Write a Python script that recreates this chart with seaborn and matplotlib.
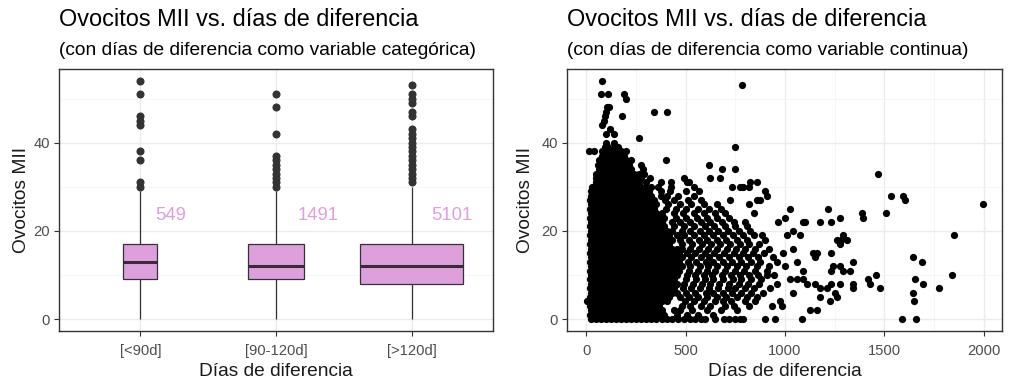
import numpy as np
import pandas as pd
import matplotlib
matplotlib.use("Agg")
import matplotlib.pyplot as plt
import seaborn as sns
from matplotlib.ticker import FixedLocator

# ---------------- data ----------------
categorias = ["[<90d]", "[90-120d]", "[>120d]"]
n_obs = [549, 1491, 5101]

# Ovocitos MII per category (values read to reproduce box, whiskers and outliers)
mii_lt90 = [0, 2, 4, 5, 6, 7, 7, 8, 8, 9, 9,
            10, 10, 11, 11, 12, 12, 12, 13, 13, 13,
            14, 14, 14, 15, 15, 16, 16, 16, 17, 17,
            29, 30, 31, 36, 38, 44, 45, 46, 51, 54]
mii_90_120 = [0, 1, 3, 4, 5, 6, 6, 7, 7, 8, 8, 8, 9, 9,
              9, 10, 10, 10, 11, 11, 11, 11, 12, 12, 12, 12, 12,
              13, 13, 13, 14, 14, 14, 15, 15, 16, 16, 16, 17, 17,
              23, 29, 30, 31, 32, 33, 34, 35, 36, 37, 42, 48, 51]
mii_gt120 = [0, 0, 1, 2, 2, 3, 3, 4, 4, 5, 5, 5, 6, 6, 6, 7, 7, 7, 7, 8, 8, 8, 8,
             8, 9, 9, 9, 9, 10, 10, 10, 10, 10, 11, 11, 11, 11, 11, 11, 12, 12, 12, 12, 12, 12,
             12, 13, 13, 13, 13, 14, 14, 14, 14, 15, 15, 15, 15, 16, 16, 16, 16, 16, 17, 17, 17, 17,
             20, 24, 30, 31, 32, 33, 34, 35, 36, 37, 38, 39, 40, 41, 42, 43, 46, 47, 49, 50, 51, 53]

# Scatter: (ovocitos MII, [días de diferencia ...])
filas_dispersion = [
    (0, [22, 47, 73, 98, 124, 149, 175, 200, 226, 251, 277, 302, 328, 353, 379, 404, 430,
         462, 490, 520, 549, 575, 599, 650, 692, 716, 750, 775, 791, 900, 950, 1084, 1591, 1661]),
    (1, [21, 35, 60, 86, 111, 137, 162, 188, 213, 239, 264, 290, 315, 341, 366, 392,
         455, 505, 560, 640]),
    (2, [22, 47, 73, 98, 124, 149, 175, 200, 226, 251, 277, 302, 328, 353, 379,
         440, 470, 530, 610, 680, 760, 1126, 1159]),
    (3, [21, 35, 60, 86, 111, 137, 162, 188, 213, 239, 264, 290, 315, 341, 366,
         480, 520, 575, 625, 700, 745, 820, 934, 984]),
    (4, [3, 22, 47, 73, 98, 124, 149, 175, 200, 226, 251, 277, 302, 328, 353, 379, 404,
         495, 540, 590, 650, 690, 730, 800, 850, 975, 1226, 1647]),
    (5, [21, 35, 60, 86, 111, 137, 162, 188, 213, 239, 264, 290, 315, 341, 366, 392, 417,
         470, 515, 560, 610, 660, 705, 760, 810, 860, 1176, 1260]),
    (6, [22, 47, 73, 98, 124, 149, 175, 200, 226, 251, 277, 302, 328, 353, 379, 404, 430, 455,
         500, 545, 600, 640, 690, 735, 780, 830, 890, 1042, 1251, 1644]),
    (7, [21, 35, 60, 86, 111, 137, 162, 188, 213, 239, 264, 290, 315, 341, 366, 392, 417, 443,
         485, 525, 570, 620, 665, 715, 750, 800, 845, 925, 1176, 1209, 1343, 1477, 1775]),
    (8, [22, 47, 73, 98, 124, 149, 175, 200, 226, 251, 277, 302, 328, 353, 379, 404, 430, 455,
         490, 535, 580, 625, 670, 720, 770, 815, 870, 960, 1109, 1150, 1234, 1276, 1343, 1427, 1694]),
    (9, [21, 35, 60, 86, 111, 137, 162, 188, 213, 239, 264, 290, 315, 341, 366, 392, 417, 443,
         500, 550, 595, 640, 690, 740, 780, 830, 880, 1026, 1060, 1092, 1418, 1652]),
    (10, [22, 47, 73, 98, 124, 149, 175, 200, 226, 251, 277, 302, 328, 353, 379, 404, 430, 455,
          505, 545, 590, 635, 685, 730, 775, 820, 865, 910, 945, 1457, 1841]),
    (11, [21, 35, 60, 86, 111, 137, 162, 188, 213, 239, 264, 290, 315, 341, 366, 392, 417, 443, 468,
          515, 560, 610, 650, 700, 750, 795, 850, 910, 1092, 1234, 1293, 1326]),
    (12, [22, 47, 73, 98, 124, 149, 175, 200, 226, 251, 277, 302, 328, 353, 379, 404, 430, 455, 481,
          520, 570, 615, 660, 710, 760, 805, 860, 920, 1000, 1243, 1276]),
    (13, [21, 35, 60, 86, 111, 137, 162, 188, 213, 239, 264, 290, 315, 341, 366, 392, 417, 443, 468,
          510, 550, 600, 640, 690, 735, 780, 830, 875, 960, 1060, 1343, 1691]),
    (14, [22, 47, 73, 98, 124, 149, 175, 200, 226, 251, 277, 302, 328, 353, 379, 404, 430, 455, 481,
          525, 575, 620, 670, 720, 770, 815, 865, 940, 1151, 1644]),
    (15, [21, 35, 60, 86, 111, 137, 162, 188, 213, 239, 264, 290, 315, 341, 366, 392, 417, 443, 468,
          505, 545, 595, 645, 695, 745, 790, 840, 895, 990, 1143, 1159, 1234]),
    (16, [22, 47, 73, 98, 124, 149, 175, 200, 226, 251, 277, 302, 328, 353, 379, 404, 430, 455, 481,
          520, 565, 615, 660, 710, 755, 800, 850, 920, 1040]),
    (17, [21, 35, 60, 86, 111, 137, 162, 188, 213, 239, 264, 290, 315, 341, 366, 392, 417,
          480, 530, 580, 630, 675, 725, 775, 820, 870, 1276]),
    (18, [22, 47, 73, 98, 124, 149, 175, 200, 226, 251, 277, 302, 328, 353, 379, 404, 430,
          470, 515, 565, 610, 660, 705, 760, 810, 900, 1260, 1284, 1310]),
    (19, [21, 35, 60, 86, 111, 137, 162, 188, 213, 239, 264, 290, 315, 341, 366, 392, 417,
          455, 490, 540, 590, 640, 690, 740, 790, 845, 883, 1009, 1076, 1293, 1850]),
    (20, [22, 47, 73, 98, 124, 149, 175, 200, 226, 251, 277, 302, 328, 353, 379, 404, 430,
          480, 520, 570, 620, 665, 715, 770, 825, 1042]),
    (21, [21, 35, 60, 86, 111, 137, 162, 188, 213, 239, 264, 290, 315, 341, 366, 392,
          440, 490, 540, 595, 645, 700, 750, 810]),
    (22, [22, 47, 73, 98, 124, 149, 175, 200, 226, 251, 277, 302, 328, 353, 379,
          430, 470, 520, 575, 625, 683, 741, 800, 967, 1092, 1101, 1176, 1234]),
    (23, [21, 35, 60, 86, 111, 137, 162, 188, 213, 239, 264, 290, 315, 341, 366, 392,
          450, 500, 555, 610, 660, 720, 1000, 1276, 1393]),
    (24, [22, 47, 73, 98, 124, 149, 175, 200, 226, 251, 277, 302, 328, 353, 379,
          440, 485, 540, 590, 650, 700, 842, 1385, 1510]),
    (25, [21, 35, 60, 86, 111, 137, 162, 188, 213, 239, 264, 290, 315, 341,
          400, 450, 500, 560, 620, 680, 1026, 1218]),
    (26, [22, 47, 73, 98, 124, 149, 175, 200, 226, 251, 277, 302, 328, 353,
          410, 470, 525, 590, 660, 817, 1995]),
    (27, [21, 35, 60, 86, 111, 137, 162, 188, 213, 239, 264, 290, 315, 341,
          395, 440, 510, 575, 725, 858, 875, 1602]),
    (28, [25, 47, 73, 98, 124, 149, 175, 200, 226, 251, 277, 302, 328,
          374, 407, 460, 540, 909, 1535, 1594]),
    (29, [25, 35, 60, 86, 111, 137, 162, 188, 213, 239, 264, 290, 315,
          374, 420, 500, 566, 900]),
    (30, [28, 47, 73, 98, 124, 149, 175, 200, 226, 251, 277, 302, 328,
          360, 424, 541, 733, 775, 791, 817]),
    (31, [48, 60, 86, 111, 137, 162, 188, 213, 239, 264,
          300, 374, 424, 507, 516, 825, 858]),
    (32, [47, 73, 98, 124, 149, 175, 200, 226, 251, 277,
          323, 490, 624, 675]),
    (33, [48, 60, 86, 111, 137, 162, 188, 213, 239, 264, 290, 1469]),
    (34, [62, 73, 98, 124, 149, 175, 200, 226, 285, 683, 750]),
    (35, [60, 86, 111, 137, 162, 188, 213, 273, 616]),
    (36, [62, 73, 98, 124, 149, 175, 200, 226, 399]),
    (37, [78, 86, 111, 137, 162, 188]),
    (38, [14, 40, 78, 98, 124, 149, 175, 200]),
    (39, [92, 111, 137, 162, 750]),
    (40, [100, 140]),
    (41, [265]),
    (42, [98, 140]),
    (43, [120]),
    (44, [81]),
    (45, [89]),
    (46, [95, 181]),
    (47, [98, 340, 407]),
    (48, [105, 115]),
    (50, [198]),
    (51, [73, 110, 190]),
    (53, [783]),
    (54, [81]),
]

# ---------------- style ----------------
sns.set_theme(style="white")
plt.rcParams["font.family"] = ["Liberation Sans", "DejaVu Sans"]

GRID_MAJ = "#EBEBEB"
GRID_MIN = "#F5F5F5"
BORDER = "#333333"
TICKTXT = "#4D4D4D"
PLUM = "#DDA0DD"

fig = plt.figure(figsize=(10.11, 3.88), dpi=100)
fig.patch.set_facecolor("white")
W, H = 1011, 388
ax1 = fig.add_axes([59 / W, 1 - 331 / H, (493 - 59) / W, (331 - 69) / H])
ax2 = fig.add_axes([567 / W, 1 - 331 / H, (1002 - 567) / W, (331 - 69) / H])

# ---------------- left: boxplots ----------------
grupos = [mii_lt90, mii_90_120, mii_gt120]
max_n = max(n_obs)
for cat, vals, n in zip(categorias, grupos, n_obs):
    df_i = pd.DataFrame({"dias_cat": [cat] * len(vals), "mii": vals})
    sns.boxplot(
        data=df_i, x="dias_cat", y="mii", order=categorias,
        width=0.76 * np.sqrt(n / max_n),
        color=PLUM, saturation=1, linecolor=BORDER, linewidth=0.9,
        showcaps=False, fliersize=4.8,
        flierprops=dict(marker="o", markerfacecolor=BORDER, markeredgecolor=BORDER),
        medianprops=dict(color="#3a2a3a", linewidth=2.2),
        ax=ax1,
    )

desplaz_etiqueta = [0.22, 0.31, 0.30]
for i, n in enumerate(n_obs):
    ax1.text(i + desplaz_etiqueta[i], 23.4, str(n), ha="center", va="center",
             color=PLUM, fontsize=13.3)

ax1.set_xlim(-0.6, 2.6)
ax1.set_ylim(-2.7, 56.7)
ax1.yaxis.set_major_locator(FixedLocator([0, 20, 40]))
ax1.yaxis.set_minor_locator(FixedLocator([10, 30, 50]))

# ---------------- right: scatter ----------------
dias_pts = [d for y, ds in filas_dispersion for d in ds]
mii_pts = [y for y, ds in filas_dispersion for d in ds]
df_sc = pd.DataFrame({"dias": dias_pts, "mii": mii_pts})
sns.scatterplot(data=df_sc, x="dias", y="mii", color="black", s=27, linewidth=0, ax=ax2)
ax2.set_xlim(-97, 2092)
ax2.set_ylim(-2.7, 56.7)
ax2.xaxis.set_major_locator(FixedLocator([0, 500, 1000, 1500, 2000]))
ax2.xaxis.set_minor_locator(FixedLocator([250, 750, 1250, 1750]))
ax2.yaxis.set_major_locator(FixedLocator([0, 20, 40]))
ax2.yaxis.set_minor_locator(FixedLocator([10, 30, 50]))

# ---------------- common styling ----------------
for ax in (ax1, ax2):
    ax.set_facecolor("white")
    ax.set_axisbelow(True)
    ax.grid(which="major", color=GRID_MAJ, linewidth=1.0)
    ax.grid(which="minor", color=GRID_MIN, linewidth=0.6)
    for sp in ax.spines.values():
        sp.set_visible(True)
        sp.set_color(BORDER)
        sp.set_linewidth(1.0)
    ax.tick_params(which="major", length=3.5, width=0.8, color=BORDER,
                   labelsize=10.6, labelcolor=TICKTXT, pad=3, bottom=True, left=True)
    ax.tick_params(which="minor", length=0)
    ax.set_xlabel("Días de diferencia", fontsize=13.8, color="#1a1a1a", va="center")
    ax.set_ylabel("Ovocitos MII", fontsize=13.8, color="#1a1a1a", va="center")
    ax.xaxis.set_label_coords(0.5, -(372 - 331) / 262)

ax1.tick_params(axis="x", pad=6)
ax2.tick_params(axis="x", pad=6)
ax1.yaxis.set_label_coords(-(59 - 22) / 434, 0.5)
ax2.yaxis.set_label_coords(-(567 - 525) / 435, 0.5)

# titles
fig.text(59 / W, 1 - 25.5 / H, "Ovocitos MII vs. días de diferencia",
         fontsize=16.9, color="black", ha="left", va="baseline")
fig.text(59 / W, 1 - 55 / H, "(con días de diferencia como variable categórica)",
         fontsize=13.8, color="black", ha="left", va="baseline")
fig.text(567 / W, 1 - 25.5 / H, "Ovocitos MII vs. días de diferencia",
         fontsize=16.9, color="black", ha="left", va="baseline")
fig.text(567 / W, 1 - 55 / H, "(con días de diferencia como variable continua)",
         fontsize=13.8, color="black", ha="left", va="baseline")

fig.savefig("out.png", dpi=100, facecolor="white")
